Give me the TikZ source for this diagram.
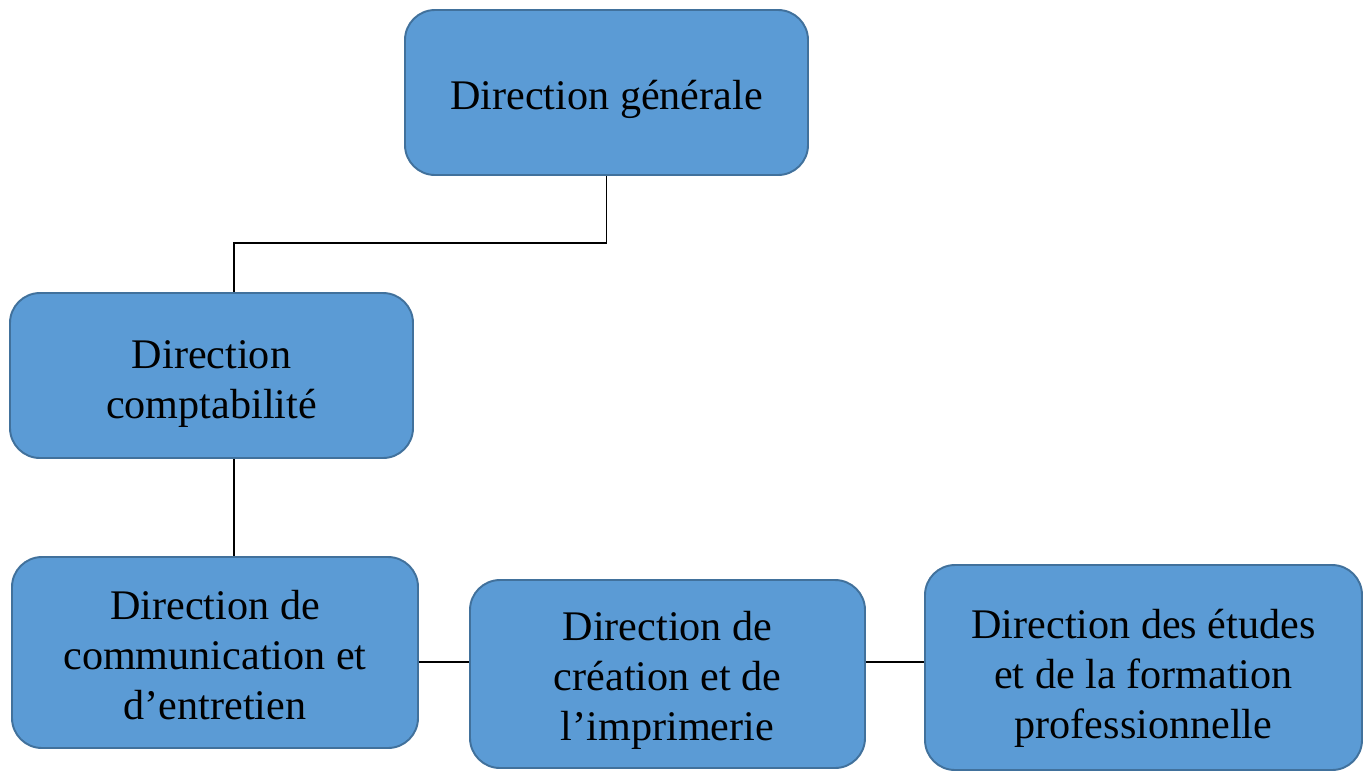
\documentclass[tikz,border=0pt]{standalone}
\usepackage{fontspec}
\setmainfont{Liberation Serif}
\definecolor{boxfill}{HTML}{5B9BD5}
\definecolor{boxline}{HTML}{41719C}
% strut that pushes the first line down
\newcommand\lift[1]{\rule{0pt}{#1}}
\begin{document}
\begin{tikzpicture}[x=0.02cm,y=-0.02cm,font=\fontsize{24}{28.5}\selectfont,
  dirbox/.style={draw=boxline,line width=1.1pt,fill=boxfill,rounded corners=0.6cm,align=center,inner sep=0pt},
  link/.style={black,line width=1.1pt}]
  \useasboundingbox (0,0) rectangle (1369,772);
  \node[dirbox,minimum width=403*0.02cm,minimum height=165*0.02cm] (dg) at (606.5,92.5) {\lift{24.5pt}Direction générale};
  \node[dirbox,minimum width=403*0.02cm,minimum height=165*0.02cm] (dc) at (211.5,375.5) {\lift{25.5pt}Direction\\comptabilité};
  \node[dirbox,minimum width=406*0.02cm,minimum height=191*0.02cm] (dce) at (215,652.5) {\lift{20pt}Direction de\\communication et\\d’entretien};
  \node[dirbox,minimum width=395*0.02cm,minimum height=188*0.02cm] (dci) at (667.5,674) {\lift{23.5pt}Direction de\\création et de\\l’imprimerie};
  \node[dirbox,minimum width=437*0.02cm,minimum height=205*0.02cm] (def) at (1143.5,667.5) {\lift{29pt}Direction des études\\et de la formation\\professionnelle};
  \coordinate (k) at (234,243);
  \coordinate (h) at (0,662);
  \draw[link] (dg.south) |- (k) -- (k |- dc.north);
  \draw[link] (k |- dc.south) -- (k |- dce.north);
  \draw[link] (dce.east |- h) -- (dci.west |- h);
  \draw[link] (dci.east |- h) -- (def.west |- h);
\end{tikzpicture}
\end{document}
